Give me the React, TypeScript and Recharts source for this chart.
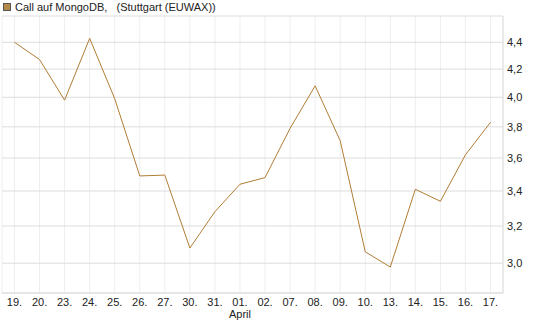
import { CartesianGrid, Line, LineChart, XAxis, YAxis } from 'recharts';

const DAYS = ['19.', '20.', '23.', '24.', '25.', '26.', '27.', '30.', '31.', '01.', '02.', '07.', '08.', '09.', '10.', '13.', '14.', '15.', '16.', '17.'];
const PRICES = [4.4, 4.27, 3.98, 4.43, 3.99, 3.49, 3.495, 3.08, 3.28, 3.44, 3.48, 3.79, 4.08, 3.71, 3.06, 2.98, 3.41, 3.34, 3.62, 3.83];
const Y_TICKS = [3.0, 3.2, 3.4, 3.6, 3.8, 4.0, 4.2, 4.4];
const MONTH_AT = '01.';
const MONTH_LABEL = 'April';

const data = DAYS.map((d, i) => ({ day: d, price: PRICES[i] }));

const LINE = '#b07d35';
const BORDER = '#dddddd';
const FONT = 'Liberation Sans, Arial, sans-serif';

function DayTick(props: any) {
    const { x, y, payload } = props;
    return (
        <g>
            <text x={x} y={y + 13} textAnchor="middle" fontSize={11} fill="#222" fontFamily={FONT}>
                {payload.value}
            </text>
            {payload.value === MONTH_AT && (
                <text x={x} y={y + 25} textAnchor="middle" fontSize={11} fill="#222" fontFamily={FONT}>
                    {MONTH_LABEL}
                </text>
            )}
        </g>
    );
}

export default function App() {
    return (
        <div style={{ position: 'absolute', left: 0, top: 0, width: 545, height: 327, background: '#fff' }}>
            <div style={{ position: 'absolute', left: 3, top: 0, height: 14, display: 'flex', alignItems: 'center', fontFamily: FONT, fontSize: 11, color: '#222', whiteSpace: 'pre' }}>
                <span style={{ display: 'inline-block', width: 6, height: 6, background: '#b5894a', border: '1px solid #555', marginRight: 4 }} />
                Call auf MongoDB,   (Stuttgart (EUWAX))
            </div>
            <LineChart width={545} height={327} data={data} margin={{ top: 16, right: 0, bottom: 0, left: 2 }}>
                <CartesianGrid horizontal={false} stroke="#eeeeee" />
                <CartesianGrid vertical={false} stroke={BORDER} />
                <XAxis
                    dataKey="day"
                    height={34}
                    padding={{ left: 12.5, right: 12.5 }}
                    tickLine={false}
                    tickSize={0}
                    tickMargin={0}
                    axisLine={{ stroke: BORDER }}
                    interval={0}
                    tick={<DayTick />}
                />
                {/* frame: top and left edges of the plot box */}
                <XAxis xAxisId="frame" orientation="top" dataKey="day" height={0} tick={false} tickLine={false} axisLine={{ stroke: BORDER }} />
                <YAxis yAxisId="frame" orientation="left" width={0} tick={false} tickLine={false} axisLine={{ stroke: BORDER }} />
                <YAxis
                    orientation="right"
                    width={42}
                    scale="log"
                    domain={[2.849, 4.605]}
                    ticks={Y_TICKS}
                    allowDataOverflow
                    tickLine={false}
                    tickSize={0}
                    tickMargin={4}
                    axisLine={{ stroke: BORDER }}
                    tickFormatter={(v: number) => v.toFixed(1).replace('.', ',')}
                    tick={{ fontSize: 11, fill: '#222', fontFamily: FONT, textAnchor: 'start' }}
                />
                <Line
                    type="linear"
                    dataKey="price"
                    stroke={LINE}
                    strokeWidth={1}
                    dot={false}
                    isAnimationActive={false}
                />
            </LineChart>
        </div>
    );
}
